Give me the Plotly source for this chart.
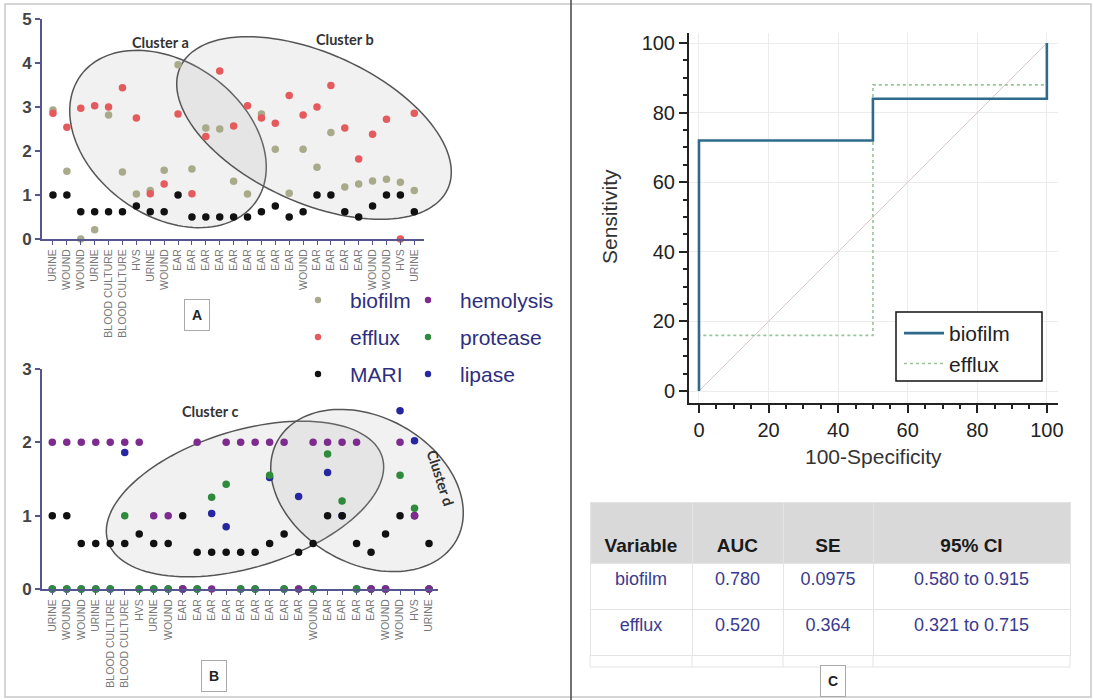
import math
import plotly.graph_objects as go

W, H = 1094, 700

# ---------------- data ----------------
categories = ["URINE", "WOUND", "WOUND", "URINE", "BLOOD CULTURE", "BLOOD CULTURE", "HVS",
              "URINE", "WOUND", "EAR", "EAR", "EAR", "EAR", "EAR", "EAR", "EAR", "EAR", "EAR",
              "WOUND", "EAR", "EAR", "EAR", "EAR", "WOUND", "WOUND", "HVS", "URINE"]
idx = list(range(len(categories)))

biofilm = [2.93, 1.54, 0.0, 0.21, 2.82, 1.52, 1.02, 1.10, 1.56, 3.96, 1.59, 2.52, 2.50, 1.31,
           1.02, 2.84, 2.04, 1.04, 2.04, 1.63, 2.42, 1.18, 1.25, 1.32, 1.36, 1.29, 1.10]
efflux = [2.86, 2.54, 2.97, 3.03, 3.00, 3.44, 2.75, 1.03, 1.25, 2.84, 1.03, 2.33, 3.82, 2.57,
          3.03, 2.75, 2.63, 3.26, 2.82, 3.00, 3.49, 2.52, 1.82, 2.38, 2.72, 0.0, 2.86]
mari = [1, 1, 0.62, 0.62, 0.62, 0.62, 0.75, 0.62, 0.62, 1, 0.5, 0.5, 0.5, 0.5, 0.5, 0.62,
        0.75, 0.5, 0.62, 1, 1, 0.62, 0.5, 0.75, 1, 1, 0.62]
hemolysis = [2, 2, 2, 2, 2, 2, 2, 1, 1, 0, 2, 0, 2, 2, 2, 2, 2, 0, 2, 2, 2, 2, 0, 0, 2, 1, 0]
protease = [0, 0, 0, 0, 0, 1.0, 0, 0, 0, 0, 0, 1.25, 1.43, 0, 0, 1.55, 0, 0, 0, 1.84, 1.2,
            0, 0, 0, 1.55, 1.1, 0]
lipase = [0, 0, 0, 0, 0, 1.86, 0, 0, 0, 0, 0, 1.03, 0.85, 0, 0, 1.52, 0, 1.26, 0, 1.59, 1.0,
          0, 0, 0, 2.43, 2.02, 0]

roc_x = [0, 0, 50, 50, 100, 100]
roc_biofilm = [0, 72, 72, 84, 84, 100]
roc_efflux = [0, 16, 16, 88, 88, 100]
diag = [0, 100]

table_cols = ["Variable", "AUC", "SE", "95% CI"]
table_variable = ["biofilm", "efflux"]
table_auc = ["0.780", "0.520"]
table_se = ["0.0975", "0.364"]
table_ci = ["0.580 to 0.915", "0.321 to 0.715"]

# ---------------- styles ----------------
C_BIO = "#a9aa8a"
C_EFF = "#e55a5c"
C_MARI = "#111111"
C_HEM = "#7d2b8f"
C_PRO = "#2f8a3c"
C_LIP = "#2626a0"
AXC = "#55558f"
FONT = "Liberation Sans, Arial, sans-serif"


def px(x):
    return x / W


def py(y):
    return 1 - y / H


fig = go.Figure()

# ----- Panel A -----
for name, vals, col in [("biofilm", biofilm, C_BIO), ("efflux", efflux, C_EFF), ("MARI", mari, C_MARI)]:
    fig.add_trace(go.Scatter(x=idx, y=vals, mode="markers", name=name, showlegend=False,
                             marker=dict(size=7.5, color=col), cliponaxis=False,
                             xaxis="x", yaxis="y"))

# ----- Panel B -----
for name, vals, col in [("lipase", lipase, C_LIP), ("MARI", mari, C_MARI),
                        ("protease", protease, C_PRO), ("hemolysis", hemolysis, C_HEM)]:
    fig.add_trace(go.Scatter(x=idx, y=vals, mode="markers", name=name, showlegend=False,
                             marker=dict(size=7.5, color=col), cliponaxis=False,
                             xaxis="x2", yaxis="y2"))

# ----- Panel C: ROC -----
fig.add_trace(go.Scatter(x=diag, y=diag, mode="lines", showlegend=False,
                         line=dict(color="#dfc6c6", width=1), xaxis="x3", yaxis="y3"))
fig.add_trace(go.Scatter(x=roc_x, y=roc_efflux, mode="lines", name="efflux", legendrank=2,
                         line=dict(color="#98c49a", width=1.6, dash="dot"), xaxis="x3", yaxis="y3",
                         cliponaxis=False))
fig.add_trace(go.Scatter(x=roc_x, y=roc_biofilm, mode="lines", name="biofilm", legendrank=1,
                         line=dict(color="#2f6a8c", width=2.6), xaxis="x3", yaxis="y3",
                         cliponaxis=False))

# ----- Table -----
fig.add_trace(go.Table(
    domain=dict(x=[px(590), px(1070)], y=[py(667), py(502)]),
    columnwidth=[102, 91, 90, 197],
    header=dict(values=["&nbsp;<br><b>%s</b>" % c for c in table_cols],
                fill_color="#d9d9d9", line_color="#e4e4e4", height=61,
                align="center", font=dict(family=FONT, size=19, color="#1a1a1a")),
    cells=dict(values=[table_variable, table_auc, table_se, table_ci],
               fill_color="white", line_color="#e4e4e4", height=46, align="center",
               font=dict(family=FONT, size=18, color="#3a3a8e")),
))

# ---------------- axes ----------------
cat_tick = dict(tickmode="array", tickvals=idx, ticktext=categories, tickangle=-90,
                tickfont=dict(family=FONT, size=10.5, color="#777777"),
                ticks="outside", ticklen=4, tickcolor=AXC, tickwidth=1.2,
                showline=True, linecolor=AXC, linewidth=2, showgrid=False, zeroline=False,
                automargin=False)
val_tick = dict(ticks="outside", ticklen=5, tickcolor=AXC, tickwidth=1.5, dtick=1,
                tickfont=dict(family=FONT, size=17, color="#444444", weight="bold"),
                showline=True, linecolor=AXC, linewidth=2, showgrid=False, zeroline=False,
                automargin=False)

roc_axis = dict(tickvals=[0, 20, 40, 60, 80, 100], ticks="outside", ticklen=8, tickwidth=1.5,
                tickcolor="#222", showline=True, linecolor="#222", linewidth=2,
                showgrid=True, gridcolor="#ececec", gridwidth=1, zeroline=False,
                minor=dict(dtick=5, ticks="outside", ticklen=4, tickcolor="#222", showgrid=False),
                tickfont=dict(family=FONT, size=20, color="#222"), automargin=False)

fig.update_layout(
    width=W, height=H, margin=dict(l=0, r=0, t=0, b=0, pad=0, autoexpand=False),
    paper_bgcolor="white", plot_bgcolor="rgba(0,0,0,0)",
    font=dict(family=FONT),
    xaxis=dict(domain=[px(42), px(424)], range=[-0.79, 26.7], anchor="y", **cat_tick),
    yaxis=dict(domain=[py(239), py(19)], range=[0, 5], anchor="x", **val_tick),
    xaxis2=dict(domain=[px(42), px(438)], range=[-0.71, 26.62], anchor="y2", **cat_tick),
    yaxis2=dict(domain=[py(589), py(369)], range=[0, 3], anchor="x2", **val_tick),
    xaxis3=dict(domain=[px(689), px(1058)], range=[-2.87, 103.2], anchor="y3", **roc_axis),
    yaxis3=dict(domain=[py(403), py(33)], range=[-3.45, 102.9], anchor="x3", **roc_axis),
    legend=dict(x=px(899), y=py(313), xanchor="left", yanchor="top", itemwidth=40,
                bgcolor="rgba(0,0,0,0)", borderwidth=0,
                font=dict(family=FONT, size=21, color="#222"), tracegroupgap=0),
)


# ---------------- decorations ----------------
def ellipse_path(cx, cy, a, b, ang, n=120):
    th = math.radians(ang)
    pts = []
    for i in range(n):
        t = 2 * math.pi * i / n
        x = cx + a * math.cos(t) * math.cos(th) - b * math.sin(t) * math.sin(th)
        y = cy + a * math.cos(t) * math.sin(th) + b * math.sin(t) * math.cos(th)
        pts.append("%.5f,%.5f" % (px(x), py(y)))
    return "M " + " L ".join(pts) + " Z"


shapes = []
for (cx, cy, a, b, ang) in [(168, 139, 108, 76.5, 36), (314, 128, 147, 74.7, 24.5),
                            (245, 499, 143.5, 68.5, -17), (367, 490.5, 102.3, 73.4, 29)]:
    shapes.append(dict(type="path", path=ellipse_path(cx, cy, a, b, ang), xref="paper", yref="paper",
                       fillcolor="rgba(175,175,175,0.18)", line=dict(color="#555555", width=1.5),
                       layer="below"))

# frames
shapes.append(dict(type="rect", xref="paper", yref="paper", x0=px(5), x1=px(1091), y0=py(697), y1=py(4),
                   line=dict(color="#c8c8c8", width=1.5)))
shapes.append(dict(type="line", xref="paper", yref="paper", x0=px(571), x1=px(571), y0=0, y1=1,
                   line=dict(color="#444444", width=1.5)))
# ROC legend box
shapes.append(dict(type="rect", xref="paper", yref="paper", x0=px(896), x1=px(1042), y0=py(381), y1=py(312),
                   fillcolor="white", line=dict(color="#111", width=1.5), layer="above"))
# bottom extension of table grid
for xv in [590, 692, 783, 873, 1070]:
    shapes.append(dict(type="line", xref="paper", yref="paper", x0=px(xv), x1=px(xv), y0=py(667), y1=py(655),
                       line=dict(color="#e4e4e4", width=1)))
shapes.append(dict(type="line", xref="paper", yref="paper", x0=px(590), x1=px(1070), y0=py(667), y1=py(667),
                   line=dict(color="#e4e4e4", width=1)))

# legend markers for A/B
leg_items = [("biofilm", C_BIO, 318, 300, 348), ("efflux", C_EFF, 318, 337, 348),
             ("MARI", C_MARI, 318, 374, 348), ("hemolysis", C_HEM, 428, 300, 458),
             ("protease", C_PRO, 428, 337, 458), ("lipase", C_LIP, 428, 374, 458)]
annotations = []
for label, col, mx, my, tx in leg_items:
    r = 3.2
    shapes.append(dict(type="circle", xref="paper", yref="paper", x0=px(mx - r), x1=px(mx + r),
                       y0=py(my + r), y1=py(my - r), fillcolor=col, line=dict(width=0)))
    annotations.append(dict(x=px(tx), y=py(my), xref="paper", yref="paper", text=label,
                            showarrow=False, xanchor="left", yanchor="middle",
                            font=dict(family=FONT, size=21, color="#2e2e7e")))

clab = dict(family="Lato, Liberation Sans, sans-serif", size=14.5, color="#333333", weight="bold")
for text, x, y, ang in [("Cluster a", 160, 42, 0), ("Cluster b", 345, 39, 0),
                        ("Cluster c", 210, 412, 0), ("Cluster d", 441, 478, 72)]:
    annotations.append(dict(x=px(x), y=py(y), xref="paper", yref="paper", text=text, showarrow=False,
                            xanchor="center", yanchor="middle", textangle=ang, font=clab))

for text, x, y in [("A", 197, 315), ("B", 214, 676), ("C", 833, 681)]:
    annotations.append(dict(x=px(x), y=py(y), xref="paper", yref="paper", text="<b>%s</b>" % text,
                            showarrow=False, xanchor="center", yanchor="middle",
                            bordercolor="#aaaaaa", borderwidth=1, borderpad=7, bgcolor="white",
                            font=dict(family=FONT, size=14, color="#222")))

annotations.append(dict(x=px(609), y=py(217), xref="paper", yref="paper", text="Sensitivity",
                        showarrow=False, textangle=-90, xanchor="center", yanchor="middle",
                        font=dict(family=FONT, size=21, color="#333")))
annotations.append(dict(x=px(873), y=py(457), xref="paper", yref="paper", text="100-Specificity",
                        showarrow=False, xanchor="center", yanchor="middle",
                        font=dict(family=FONT, size=21, color="#333")))

fig.update_layout(shapes=shapes, annotations=annotations)

fig.write_html("out.html", config={"displayModeBar": False},
               post_script="document.body.style.margin='0';document.body.style.overflow='hidden';")
